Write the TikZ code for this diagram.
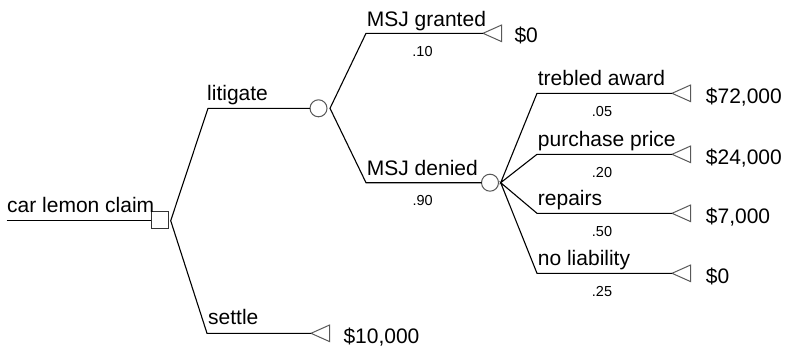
\documentclass[tikz,border=0pt]{standalone}
\usepackage{fontspec}
\setmainfont{Liberation Sans}
\usetikzlibrary{shapes.geometric}
\begin{document}
\begin{tikzpicture}[x=1pt,y=-1pt,
  edge/.style={line width=1.1pt, black},
  decision/.style={draw=black!80, line width=1pt, rectangle, minimum size=17pt, inner sep=0pt, outer sep=0pt},
  chance/.style={draw=black!65, line width=1pt, circle, minimum size=17pt, inner sep=0pt, outer sep=0pt},
  terminal/.style={draw=black!65, line width=1pt, isosceles triangle, isosceles triangle stretches, shape border rotate=180, minimum width=16.5pt, minimum height=18.5pt, inner sep=0pt, outer sep=0pt, anchor=apex},
  lbl/.style={anchor=base west, inner sep=0pt, font=\fontsize{21}{25}\selectfont},
  prob/.style={anchor=base, inner sep=0pt, font=\fontsize{14.5}{17}\selectfont},
  val/.style={anchor=base west, inner sep=0pt, font=\fontsize{21}{25}\selectfont},
]
\useasboundingbox (0,0) rectangle (786,348);

% root
\coordinate (root) at (6.7,220.7);
\node[decision] (dec) at (159.5,219.8) {};
\coordinate (f0) at (170.7,220.7);
\draw[edge] (root) -- (dec.west |- root);
\node[lbl] (tRoot) at (7,212.5) {car lemon claim};

% litigate / settle
\coordinate (litS) at (208,108.3);
\node[chance] (c1) at (318.5,108.3) {};
\coordinate (f1) at (330,108.3);
\coordinate (setS) at (207,333.3);
\node[terminal] (tSet) at (311,333.3) {};
\draw[edge] (c1.west) -- (litS) -- (f0) -- (setS) -- (tSet.apex);
\node[lbl] (tLit) at (207,100.5) {litigate};
\node[lbl] (tSettle) at (208,324) {settle};
\node[val] (vSet) at (343.3,343) {\$10,000};

% MSJ
\coordinate (gS) at (366,33.3);
\node[terminal] (tG) at (483,33.3) {};
\coordinate (dS) at (366,182.7);
\node[chance] (c2) at (490,182.7) {};
\coordinate (f2) at (500.7,182.7);
\draw[edge] (tG.apex) -- (gS) -- (f1) -- (dS) -- (c2.west);
\node[lbl] (tMG) at (366.7,26) {MSJ granted};
\node[prob] (p10) at (422.5,56.7) {.10};
\node[val] (vG) at (514.3,42.7) {\$0};
\node[lbl] (tMD) at (366.7,175) {MSJ denied};
\node[prob] (p90) at (422.7,205) {.90};

% outcomes
\coordinate (aS) at (537,93.3);
\coordinate (bS) at (537,154.3);
\coordinate (cS) at (537,213.3);
\coordinate (dd) at (537,273.3);
\node[terminal] (tA) at (672,93.3) {};
\node[terminal] (tB) at (672,154.3) {};
\node[terminal] (tC) at (672,213.3) {};
\node[terminal] (tD) at (672,273.3) {};
\draw[edge] (tA.apex) -- (aS) -- (f2) -- (bS) -- (tB.apex);
\draw[edge] (tC.apex) -- (cS) -- (f2) -- (dd) -- (tD.apex);

\node[lbl] (lA) at (537.7,85.5) {trebled award};
\node[lbl] (lB) at (537.7,146) {purchase price};
\node[lbl] (lC) at (537.7,205) {repairs};
\node[lbl] (lD) at (537.7,265.3) {no liability};
\node[prob] (pA) at (602,116.3) {.05};
\node[prob] (pB) at (602,177.3) {.20};
\node[prob] (pC) at (602,236.3) {.50};
\node[prob] (pD) at (602,296.3) {.25};
\node[val] (vA) at (705.7,103) {\$72,000};
\node[val] (vB) at (705.7,164) {\$24,000};
\node[val] (vC) at (705.7,223) {\$7,000};
\node[val] (vD) at (705.7,283) {\$0};
\end{tikzpicture}
\end{document}
